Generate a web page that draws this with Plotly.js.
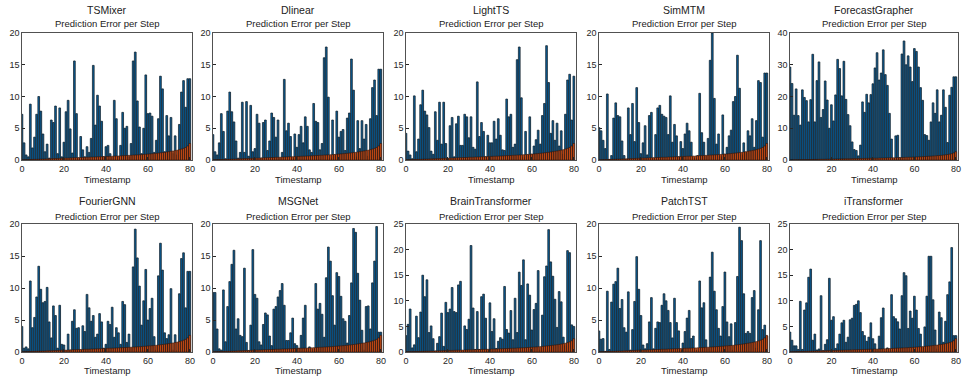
<!DOCTYPE html>
<html><head><meta charset="utf-8">
<script src="https://cdn.plot.ly/plotly-3.0.1.min.js"></script>
<style>html,body{margin:0;padding:0;background:#fff}#c{width:963px;height:380px}</style>
</head><body><div id="c"></div>
<script>
const models = ["TSMixer","Dlinear","LightTS","SimMTM","ForecastGrapher","FourierGNN","MSGNet","BrainTransformer","PatchTST","iTransformer"];
const yMax = [20,20,20,20,40,20,20,25,20,25];
const xTicks = [0,20,40,60,80];

const errTSMixer = [7.2,2.7,0.8,0.5,8.8,1.9,3.6,7.2,10.0,7.7,4.1,1.3,2.5,0.3,6.3,5.9,8.5,1.0,8.2,0.5,2.8,7.6,9.4,4.9,1.1,15.6,7.3,0.3,3.7,1.6,0.5,2.1,1.2,3.4,14.9,5.5,10.2,8.5,6.1,0.5,2.1,2.3,1.0,0.4,9.4,6.5,0.5,2.3,7.5,5.0,5.3,0.5,2.6,15.6,17.0,9.3,5.2,1.0,5.0,13.4,7.3,7.4,6.9,1.2,3.1,6.5,13.2,11.2,1.3,7.0,3.8,6.7,1.0,3.8,0.8,5.6,10.7,12.5,8.3,12.8,12.8];
const errDlinear = [4.0,1.3,0.8,2.7,7.3,4.5,0.2,7.7,10.7,7.6,6.0,3.0,0.3,1.2,9.1,1.2,9.2,0.6,8.6,1.3,1.8,7.2,5.8,0.3,5.9,6.3,1.5,3.0,7.4,6.7,3.6,6.3,0.3,1.2,12.7,4.6,5.8,3.7,0.2,4.1,2.0,4.0,5.3,2.7,6.8,5.3,1.6,1.2,8.9,6.1,5.9,1.6,2.6,16.1,17.8,9.9,0.3,6.3,0.8,7.7,3.6,4.5,4.8,1.5,6.6,7.4,15.9,11.0,0.5,6.2,1.8,6.2,3.3,5.6,0.6,6.5,11.4,12.6,7.0,14.3,14.3];
const errLightTS = [4.2,1.4,0.8,0.2,10.1,1.3,3.3,8.7,11.0,7.7,7.1,5.1,1.4,0.9,7.6,3.1,9.1,2.5,9.1,2.6,0.2,5.4,6.7,0.5,5.7,6.9,2.3,2.3,7.2,6.8,3.5,6.8,2.0,1.7,12.3,3.7,5.9,4.5,0.5,3.9,2.7,2.7,6.1,3.3,6.5,3.9,1.6,1.5,9.6,6.8,7.2,2.0,2.5,15.8,17.8,9.8,0.4,4.5,0.8,6.8,0.9,2.2,3.2,4.7,2.5,7.0,8.9,18.0,12.2,4.2,6.2,3.1,5.8,2.2,4.6,0.9,7.2,12.6,13.5,6.3,13.2];
const errSimMTM = [5.1,4.6,3.1,1.8,10.4,0.1,0.7,6.6,9.0,7.0,6.8,3.0,0.7,0.1,8.2,4.0,8.9,2.9,11.4,5.9,1.0,2.7,5.4,0.8,7.0,7.5,0.3,4.0,8.2,8.6,7.2,6.9,6.7,4.0,10.1,2.8,5.6,3.8,0.5,2.9,1.8,4.1,5.8,4.6,2.8,0.4,0.3,0.7,10.5,4.3,2.8,0.6,3.4,15.7,20.0,9.7,2.5,4.1,0.5,7.1,0.9,2.0,3.8,4.7,9.2,10.0,16.5,11.3,0.8,2.7,1.2,4.6,3.8,6.5,2.0,6.2,12.5,12.2,3.6,13.7,13.7];
const errForecastGrapher = [29.3,24.1,14.1,22.4,14.0,11.0,22.1,19.7,18.7,12.0,19.0,33.3,12.0,25.0,30.9,13.4,15.9,24.9,18.9,10.0,17.4,12.3,20.5,31.7,28.8,20.2,31.1,19.1,14.3,10.8,5.7,3.3,3.0,1.3,4.7,18.3,15.0,20.7,18.0,20.6,24.0,29.0,33.8,25.2,27.4,34.7,26.9,23.5,14.7,6.6,0.5,7.6,7.8,0.7,33.4,37.5,30.0,32.8,29.3,24.7,35.1,34.2,29.3,22.8,18.8,8.0,7.7,6.2,12.0,18.0,14.7,22.1,12.0,14.1,22.1,16.6,5.5,20.4,22.9,26.2,26.2];
const errFourierGNN = [4.0,0.6,0.8,0.5,11.1,3.8,5.4,8.6,13.4,9.8,7.7,7.9,10.1,4.7,2.2,7.2,5.7,0.6,7.3,1.2,1.1,0.2,2.8,0.3,4.8,6.6,3.7,3.8,0.3,4.1,3.2,9.0,6.9,4.8,5.7,2.3,2.8,6.0,4.7,0.6,1.2,4.8,4.3,7.0,2.3,3.8,3.0,1.2,7.9,7.4,1.5,2.8,0.6,13.3,19.2,14.7,10.3,4.2,8.0,12.9,5.0,6.8,8.4,2.4,0.3,11.9,17.0,12.8,3.0,2.1,2.7,9.9,0.3,2.7,0.2,9.1,14.6,15.5,6.9,12.6,12.6];
const errMSGNet = [9.3,9.3,3.6,0.5,0.3,9.7,1.6,7.1,11.0,13.7,15.9,3.6,5.2,2.6,2.4,13.1,1.5,0.2,4.2,16.0,9.0,8.4,1.6,1.1,4.3,6.1,5.8,2.5,1.0,6.7,7.1,8.6,9.6,10.7,7.3,1.8,1.8,3.0,5.3,1.3,1.0,0.6,2.6,5.3,7.3,0.4,0.8,0.2,0.5,10.7,6.7,7.6,5.9,2.3,11.6,16.4,14.2,8.8,4.2,12.4,11.8,8.7,5.2,4.8,1.4,5.7,10.8,19.3,18.7,12.3,8.1,3.4,0.3,7.1,7.2,3.6,10.8,14.2,19.6,3.1,3.1];
const errBrainTransformer = [3.2,5.4,8.4,0.8,1.4,7.0,2.8,7.8,15.0,10.8,14.1,3.8,5.1,2.6,0.2,1.7,3.0,7.6,1.1,9.7,7.7,8.4,12.6,7.9,7.7,13.1,13.8,0.2,5.1,4.4,6.4,20.8,8.6,0.5,7.9,0.5,10.8,11.3,6.6,0.4,9.6,4.0,6.5,0.7,2.1,2.8,2.5,12.8,4.4,3.7,8.1,2.4,10.5,3.8,15.6,13.0,18.0,2.4,13.3,11.1,4.3,8.3,9.5,15.9,0.4,7.2,14.7,16.8,23.9,17.6,14.8,10.3,4.8,11.8,9.8,2.9,1.2,19.8,19.4,5.3,5.0];
const errPatchTST = [3.3,2.0,2.1,0.1,9.5,0.4,7.8,10.6,11.0,13.1,6.8,8.2,3.8,3.1,9.4,0.3,3.5,7.9,14.9,9.8,5.7,1.1,0.5,1.3,4.7,8.5,0.5,3.7,4.7,4.6,7.3,9.1,8.0,6.5,4.6,2.2,8.4,4.6,3.3,0.3,1.4,3.2,5.3,6.5,2.1,2.5,0.3,0.2,11.1,6.9,7.7,1.9,0.5,11.7,15.6,9.5,6.6,3.7,2.5,7.1,12.5,4.7,2.4,4.4,0.3,4.6,11.8,19.5,17.4,9.1,2.9,3.2,2.9,8.5,9.6,0.6,6.6,17.4,3.5,4.2,2.5];
const erriTransformer = [3.9,2.3,1.2,1.2,0.5,9.9,0.5,8.2,9.6,14.6,16.2,2.3,3.5,0.4,0.6,11.0,0.3,1.5,2.4,14.4,6.2,6.9,0.7,1.6,3.5,5.7,6.2,1.9,2.9,6.3,6.6,9.1,9.3,10.0,7.7,4.0,3.2,2.1,2.9,5.7,2.6,1.6,0.4,3.1,6.7,8.6,0.1,0.8,0.5,11.2,6.9,6.5,5.9,4.5,11.0,15.5,14.9,4.6,8.0,6.6,10.9,8.2,4.6,3.5,0.9,4.9,10.9,18.7,18.7,10.2,4.3,0.6,7.8,6.7,1.9,6.0,11.2,13.7,20.4,3.2,3.2];
const baseline = [0.02,0.03,0.05,0.06,0.08,0.09,0.1,0.11,0.12,0.14,0.15,0.16,0.18,0.19,0.2,0.22,0.23,0.24,0.26,0.27,0.28,0.3,0.31,0.32,0.34,0.35,0.36,0.38,0.39,0.4,0.42,0.43,0.44,0.46,0.47,0.48,0.5,0.51,0.52,0.54,0.55,0.57,0.58,0.6,0.61,0.63,0.64,0.66,0.68,0.69,0.71,0.73,0.75,0.77,0.79,0.81,0.83,0.85,0.88,0.9,0.93,0.96,0.99,1.02,1.05,1.09,1.13,1.17,1.21,1.26,1.31,1.36,1.42,1.48,1.55,1.63,1.72,1.83,1.97,2.2,2.6];

const errors = [errTSMixer,errDlinear,errLightTS,errSimMTM,errForecastGrapher,errFourierGNN,errMSGNet,errBrainTransformer,errPatchTST,erriTransformer];

const W = 963, H = 380;
const colL = [22,213,406,599,790];
const colW = [170,170,170,170,168];
const rowTop = [33,224], rowBot = [160,352];
const font = "Liberation Sans, Arial, sans-serif";

const traces = [], annotations = [];
const layout = {
  width: W, height: H, margin: {l:0,r:0,t:0,b:0},
  paper_bgcolor: '#fff', plot_bgcolor: '#fff',
  barmode: 'overlay', showlegend: false,
  font: {family: font, size: 9, color: '#262626'},
  annotations: annotations
};

for (let k = 0; k < 10; k++) {
  const r = Math.floor(k/5), c = k%5;
  const sfx = k === 0 ? '' : String(k+1);
  const xa = 'x'+sfx, ya = 'y'+sfx;
  const vals = errors[k];
  const xs = vals.map((_, i) => i);
  const bx = baseline.map((_, i) => i);
  traces.push({type:'bar', x: xs, y: vals, xaxis: xa, yaxis: ya, width: 0.95, offset: -0.3,
    marker: {color: '#c4c4c4', line: {width: 0}}, hoverinfo: 'skip'});
  traces.push({type:'bar', x: xs, y: vals, xaxis: xa, yaxis: ya, width: 0.8, offset: -0.45,
    marker: {color: '#0b5f9a', line: {color: '#0f1c27', width: 0.7}}});
  traces.push({type:'bar', x: bx, y: baseline, xaxis: xa, yaxis: ya, width: 0.8, offset: -0.45,
    marker: {color: '#d95319', line: {color: '#1a0a04', width: 0.5}}});
  const x0 = colL[c]/W, x1 = (colL[c]+colW[c])/W;
  const y0 = 1 - rowBot[r]/H, y1 = 1 - rowTop[r]/H;
  const ym = yMax[k];
  const dt = ym === 40 ? 10 : 5;
  layout['xaxis'+sfx] = {domain:[x0,x1], anchor: ya, range:[0,81], tickvals: xTicks, ticks:'inside', ticklen:3,
    tickcolor:'#262626', showline:true, mirror:true, linecolor:'#262626', linewidth:0.8, showgrid:false, zeroline:false,
    ticklabeloverflow:'allow',
    tickfont:{size:9, color:'#262626', family: font}, fixedrange:true};
  layout['yaxis'+sfx] = {domain:[y0,y1], anchor: xa, range:[0,ym], dtick: dt, ticks:'inside', ticklen:3,
    tickcolor:'#262626', showline:true, mirror:true, linecolor:'#262626', linewidth:0.8, showgrid:false, zeroline:false,
    ticklabeloverflow:'allow',
    tickfont:{size:9, color:'#262626', family: font}, fixedrange:true};
  const cx = (colL[c] + colW[c]/2)/W;
  annotations.push({text: models[k], xref:'paper', yref:'paper', x: cx, y: 1 - (r===0 ? 10 : 201)/H,
    xanchor:'center', yanchor:'middle', showarrow:false, font:{size:10.5, color:'#222', family: font}});
  annotations.push({text: 'Prediction Error per Step', xref:'paper', yref:'paper', x: cx, y: 1 - (r===0 ? 24 : 216)/H,
    xanchor:'center', yanchor:'middle', showarrow:false, font:{size:9.5, color:'#222', family: font}});
  annotations.push({text: 'Timestamp', xref:'paper', yref:'paper', x: cx, y: 1 - (r===0 ? 179 : 370)/H,
    xanchor:'center', yanchor:'middle', showarrow:false, font:{size:9.5, color:'#222', family: font}});
}

Plotly.newPlot('c', traces, layout, {staticPlot: true, displayModeBar: false});
</script>
</body></html>
